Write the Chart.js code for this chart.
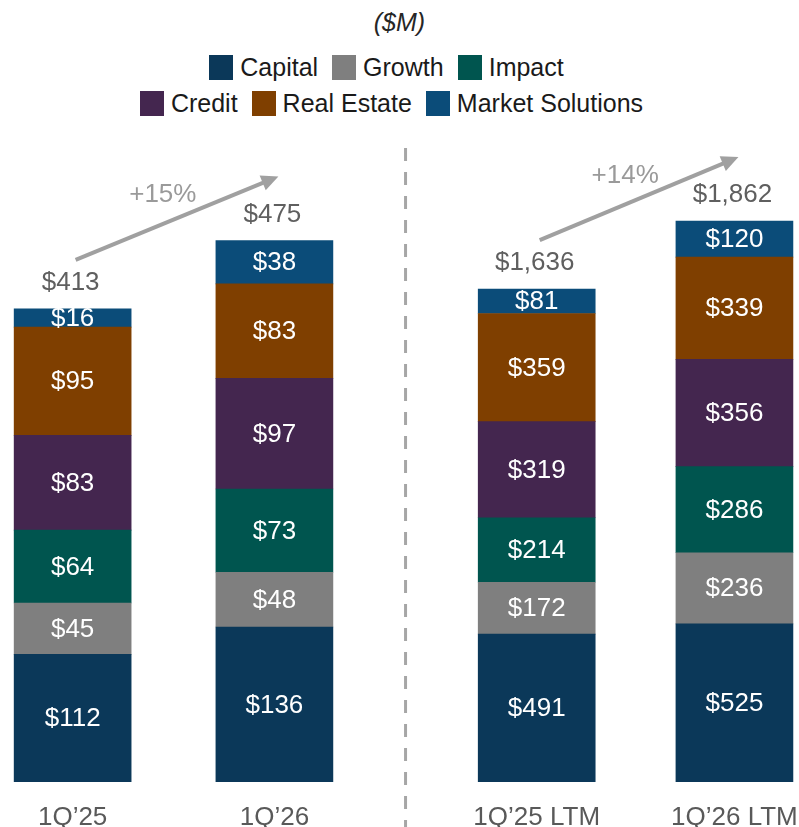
<!DOCTYPE html>
<html>
<head>
<meta charset="utf-8">
<script src="https://cdn.jsdelivr.net/npm/chart.js@4.4.1/dist/chart.umd.min.js"></script>
<style>
    html, body { margin: 0; padding: 0; background: #fff; }
    body {
        width: 799px; height: 827px; position: relative; overflow: hidden;
        font-family: "Liberation Sans", Arial, sans-serif;
    }
    #chart { position: absolute; top: 0; left: 0; }
    #title {
        position: absolute; top: 7px; left: 0; width: 799px;
        text-align: center; font-style: italic; font-size: 25px; line-height: 30px; color: #262626;
    }
    .legend-row {
        position: absolute; width: 799px; display: flex; justify-content: center;
        gap: 14px; font-size: 25px; line-height: 30px; color: #1a1a1a;
    }
    .legend-item { display: flex; align-items: center; }
    .swatch { width: 24px; height: 25px; margin-right: 7px; }
</style>
</head>
<body>
<div id="title">($M)</div>
<div class="legend-row" id="legend-1" style="top:52px; left:-13px;"></div>
<div class="legend-row" id="legend-2" style="top:88px; left:-8px;"></div>
<canvas id="chart" width="799" height="827"></canvas>

<script>
// -------------- Datos --------------
const periods = ['1Q\u201925', '1Q\u201926', '1Q\u201925 LTM', '1Q\u201926 LTM'];
const segments = ['Capital', 'Growth', 'Impact', 'Credit', 'Real Estate', 'Market Solutions'];

const capital = [112, 136, 491, 525];
const growth = [45, 48, 172, 236];
const impact = [64, 73, 214, 286];
const credit = [83, 97, 319, 356];
const realEstate = [95, 83, 359, 339];
const marketSolutions = [16, 38, 81, 120];

const totals = [413, 475, 1636, 1862];

const segmentValues = [capital, growth, impact, credit, realEstate, marketSolutions];
const segmentColors = ['#0b3859', '#7f7f7f', '#00554f', '#44264f', '#7f3f00', '#0b4c79'];

// posiciones de las barras en el eje x (hueco entre los dos paneles)
const slots = [0, 1, 2.3, 3.28];

const FONT = '"Liberation Sans", Arial, sans-serif';

// -------------- Leyenda --------------
function renderLegend() {
    const rows = [document.getElementById('legend-1'), document.getElementById('legend-2')];
    segments.forEach((name, i) => {
        const item = document.createElement('div');
        item.className = 'legend-item';
        item.innerHTML = `<span class="swatch" style="background:${segmentColors[i]}"></span>${name}`;
        rows[i < 3 ? 0 : 1].appendChild(item);
    });
}

// -------------- Datasets --------------
function buildDatasets() {
    const datasets = [];
    segments.forEach((name, s) => {
        // panel izquierdo (trimestre) y panel derecho (LTM) usan su propia escala
        [[0, 1, 'yL'], [2, 3, 'yR']].forEach(([a, b, axis]) => {
            datasets.push({
                label: name,
                data: [
                    { x: slots[a], y: segmentValues[s][a], idx: a },
                    { x: slots[b], y: segmentValues[s][b], idx: b }
                ],
                yAxisID: axis,
                stack: 'all',
                backgroundColor: segmentColors[s],
                borderWidth: 0,
                barThickness: 117
            });
        });
    });
    return datasets;
}

// -------------- Plugins --------------
function barTops(chart) {
    const tops = [];
    chart.data.datasets.forEach((ds, i) => {
        chart.getDatasetMeta(i).data.forEach((bar, j) => {
            const k = ds.data[j].idx;
            if (!tops[k] || bar.y < tops[k].y) tops[k] = { x: bar.x, y: bar.y, left: bar.x - bar.width / 2, right: bar.x + bar.width / 2 };
        });
    });
    return tops;
}

function drawArrow(ctx, x1, y1, x2, y2) {
    const ang = Math.atan2(y2 - y1, x2 - x1);
    const head = 17;
    ctx.beginPath();
    ctx.moveTo(x1, y1);
    ctx.lineTo(x2 - Math.cos(ang) * head * 0.8, y2 - Math.sin(ang) * head * 0.8);
    ctx.stroke();
    ctx.beginPath();
    ctx.moveTo(x2, y2);
    ctx.lineTo(x2 - head * Math.cos(ang) + 8 * Math.sin(ang), y2 - head * Math.sin(ang) - 8 * Math.cos(ang));
    ctx.lineTo(x2 - head * Math.cos(ang) - 8 * Math.sin(ang), y2 - head * Math.sin(ang) + 8 * Math.cos(ang));
    ctx.closePath();
    ctx.fill();
}

const annotations = {
    id: 'annotations',
    afterDatasetsDraw(chart) {
        const ctx = chart.ctx;
        const tops = barTops(chart);
        ctx.save();

        // etiquetas dentro de cada segmento
        ctx.font = `26px ${FONT}`;
        ctx.fillStyle = '#ffffff';
        ctx.textAlign = 'center';
        ctx.textBaseline = 'middle';
        chart.data.datasets.forEach((ds, i) => {
            chart.getDatasetMeta(i).data.forEach((bar, j) => {
                ctx.fillText('$' + ds.data[j].y, bar.x, (bar.y + bar.base) / 2 + 1);
            });
        });

        // totales
        ctx.fillStyle = '#5f5f5f';
        tops.forEach((t, k) => {
            ctx.fillText('$' + totals[k].toLocaleString('en-US'), t.x - 2, t.y - 26);
        });

        // flechas de crecimiento
        ctx.strokeStyle = '#a0a0a0';
        ctx.fillStyle = '#a0a0a0';
        ctx.lineWidth = 4;
        [[0, 1], [2, 3]].forEach(([a, b]) => {
            const x1 = tops[a].x + 3, y1 = tops[a].y - 49;
            const x2 = tops[b].x + 4, y2 = tops[b].y - 64;
            drawArrow(ctx, x1, y1, x2, y2);
            const pct = Math.round((totals[b] / totals[a] - 1) * 100);
            ctx.fillStyle = '#9a9a9a';
            ctx.fillText('+' + pct + '%', x1 + (x2 - x1) * 0.43, y1 + (y2 - y1) * 0.43 - 29);
            ctx.fillStyle = '#a0a0a0';
        });

        // separador punteado entre paneles
        const midX = (tops[1].right + tops[2].left) / 2;
        ctx.strokeStyle = '#a6a6a6';
        ctx.lineWidth = 3;
        ctx.setLineDash([13, 11]);
        ctx.beginPath();
        ctx.moveTo(midX, 148);
        ctx.lineTo(midX, chart.height);
        ctx.stroke();

        ctx.restore();
    }
};

// -------------- Gráfica --------------
function renderChart() {
    new Chart(document.getElementById('chart'), {
        type: 'bar',
        data: { datasets: buildDatasets() },
        options: {
            responsive: false,
            animation: false,
            layout: { padding: { top: 212, left: 0, right: 0, bottom: 0 } },
            plugins: {
                legend: { display: false },
                tooltip: { enabled: false }
            },
            scales: {
                x: {
                    type: 'linear',
                    min: -0.36,
                    max: 3.6,
                    offset: false,
                    stacked: true,
                    grid: { display: false },
                    border: { display: false },
                    afterBuildTicks: axis => { axis.ticks = slots.map(v => ({ value: v })); },
                    afterFit: axis => {
                        axis.height = 45;
                        axis.paddingLeft = 0;
                        axis.paddingRight = 0;
                    },
                    ticks: {
                        autoSkip: false,
                        maxRotation: 0,
                        padding: 12,
                        color: '#595959',
                        font: { family: FONT, size: 26 },
                        callback: (v, i) => periods[i]
                    }
                },
                yL: { display: false, stacked: true, min: 0, max: 500 },
                yR: { display: false, stacked: true, min: 0, max: 1892 }
            }
        },
        plugins: [annotations]
    });
}

renderLegend();
renderChart();
</script>
</body>
</html>
